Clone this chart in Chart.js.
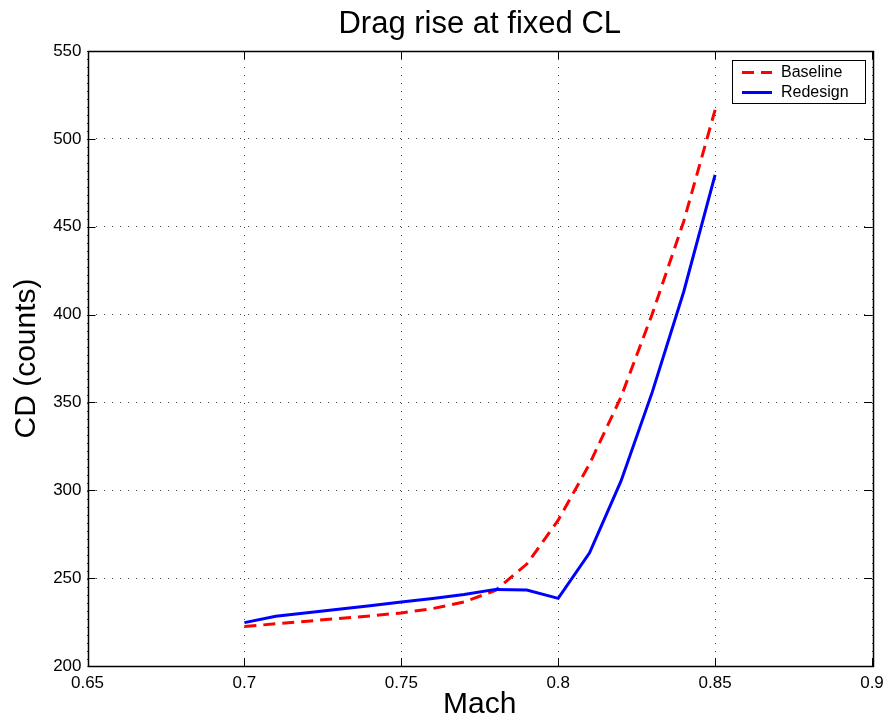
<!DOCTYPE html>
<html>
<head>
<meta charset="utf-8">
<script src="https://cdn.jsdelivr.net/npm/chart.js@4/dist/chart.umd.min.js"></script>
<style>
  html, body { margin: 0; padding: 0; background: #fff; }
  #wrap { width: 886px; height: 723px; }
</style>
</head>
<body>
<div id="wrap"><canvas id="c" width="886" height="723"></canvas></div>
<script>
// ---- data ----
const mach = [0.70, 0.71, 0.72, 0.73, 0.74, 0.75, 0.76, 0.77, 0.78, 0.79, 0.80, 0.81, 0.82, 0.83, 0.84, 0.85];
const baseline = [222.5, 224, 225.5, 227, 228.5, 230.2, 232.7, 236.4, 243, 258, 283, 315, 353, 400.5, 453, 516.5];
const redesign = [224.7, 228.3, 230.3, 232.3, 234.3, 236.4, 238.4, 240.7, 243.6, 243.2, 238.5, 264.4, 305.2, 356, 413, 479.5];
const xTickLabels = ['0.65', '0.7', '0.75', '0.8', '0.85', '0.9'];
const yTickLabels = ['200', '250', '300', '350', '400', '450', '500', '550'];
const seriesNames = ['Baseline', 'Redesign'];
const titleText = 'Drag rise at fixed CL';
const xTitle = 'Mach';
const yTitle = 'CD (counts)';

const FONT = "'Liberation Sans', Arial, Helvetica, sans-serif";

const toXY = (xs, ys) => xs.map((x, i) => ({ x: x, y: ys[i] }));

const frameAndTicks = {
  id: 'frameAndTicks',
  afterDatasetsDraw(chart) {
    const { ctx, chartArea: a, scales: { x, y } } = chart;
    ctx.save();
    ctx.strokeStyle = '#000';
    ctx.lineWidth = 1;
    ctx.setLineDash([]);
    const T = 8;
    ctx.beginPath();
    x.ticks.forEach(t => {
      const px = Math.round(x.getPixelForValue(t.value)) + 0.5;
      ctx.moveTo(px, a.bottom); ctx.lineTo(px, a.bottom - T);
      ctx.moveTo(px, a.top); ctx.lineTo(px, a.top + T);
    });
    y.ticks.forEach(t => {
      const py = Math.round(y.getPixelForValue(t.value)) + 0.5;
      ctx.moveTo(a.left, py); ctx.lineTo(a.left + T, py);
      ctx.moveTo(a.right, py); ctx.lineTo(a.right - T, py);
    });
    ctx.stroke();
    ctx.lineWidth = 1.5;
    ctx.strokeRect(Math.round(a.left) + 0.5, Math.round(a.top) + 0.5,
                   Math.round(a.right - a.left), Math.round(a.bottom - a.top));

    // title centred over the plot area
    ctx.fillStyle = '#000';
    ctx.font = '31px ' + FONT;
    ctx.textAlign = 'center';
    ctx.textBaseline = 'middle';
    ctx.fillText(titleText, (a.left + a.right) / 2, 24);

    // legend box
    const bx = 732, by = 60, bw = 133, bh = 43;
    ctx.fillStyle = '#fff';
    ctx.fillRect(bx, by, bw, bh);
    ctx.lineWidth = 1;
    ctx.strokeStyle = '#000';
    ctx.strokeRect(bx + 0.5, by + 0.5, bw, bh);
    const rows = [72.5, 92.5];
    chart.data.datasets.forEach((ds, i) => {
      ctx.strokeStyle = ds.borderColor;
      ctx.lineWidth = ds.borderWidth;
      ctx.setLineDash(ds.borderDash || []);
      ctx.beginPath();
      ctx.moveTo(742, rows[i]);
      ctx.lineTo(772, rows[i]);
      ctx.stroke();
      ctx.setLineDash([]);
      ctx.fillStyle = '#000';
      ctx.font = '16px ' + FONT;
      ctx.textBaseline = 'middle';
      ctx.textAlign = 'left';
      ctx.fillText(ds.label, 781, rows[i]);
    });
    ctx.restore();
  }
};

new Chart(document.getElementById('c'), {
  type: 'line',
  data: {
    datasets: [
      {
        label: seriesNames[0],
        data: toXY(mach, baseline),
        borderColor: '#ff0000',
        borderWidth: 3,
        borderDash: [12, 7],
        pointRadius: 0,
        tension: 0,
        fill: false,
        order: 2
      },
      {
        label: seriesNames[1],
        data: toXY(mach, redesign),
        borderColor: '#0000ff',
        borderWidth: 3,
        pointRadius: 0,
        tension: 0,
        fill: false,
        order: 1
      }
    ]
  },
  options: {
    responsive: false,
    animation: false,
    devicePixelRatio: 1,
    layout: { padding: { left: 0, right: 14, top: 51, bottom: 0 } },
    plugins: {
      legend: { display: false },
      tooltip: { enabled: false },
      title: { display: false }
    },
    scales: {
      x: {
        type: 'linear',
        min: 0.65,
        max: 0.9,
        afterBuildTicks: s => { s.ticks = xTickLabels.map(v => ({ value: parseFloat(v) })); },
        afterFit: s => { s.height = 57; s.paddingLeft = 0; s.paddingRight = 0; },
        ticks: {
          color: '#000',
          font: { family: FONT, size: 17 },
          padding: 7,
          maxRotation: 0,
          autoSkip: false,
          callback: (v, i) => xTickLabels[i]
        },
        grid: { color: '#444', lineWidth: 1, drawTicks: false },
        border: { display: false, dash: [1, 7] },
        title: {
          display: true,
          text: xTitle,
          color: '#000',
          font: { family: FONT, size: 30 },
          padding: { top: 0, bottom: 0 }
        }
      },
      y: {
        type: 'linear',
        min: 200,
        max: 550,
        afterBuildTicks: s => { s.ticks = yTickLabels.map(v => ({ value: parseFloat(v) })); },
        afterFit: s => { s.width = 87.5; s.paddingTop = 0; s.paddingBottom = 0; },
        ticks: {
          color: '#000',
          font: { family: FONT, size: 17 },
          padding: 6,
          autoSkip: false,
          callback: (v, i) => yTickLabels[i]
        },
        grid: { color: '#444', lineWidth: 1, drawTicks: false },
        border: { display: false, dash: [1, 7] },
        title: {
          display: true,
          text: yTitle,
          color: '#000',
          font: { family: FONT, size: 30 },
          padding: { top: 9, bottom: 0 }
        }
      }
    }
  },
  plugins: [frameAndTicks]
});
</script>
</body>
</html>
